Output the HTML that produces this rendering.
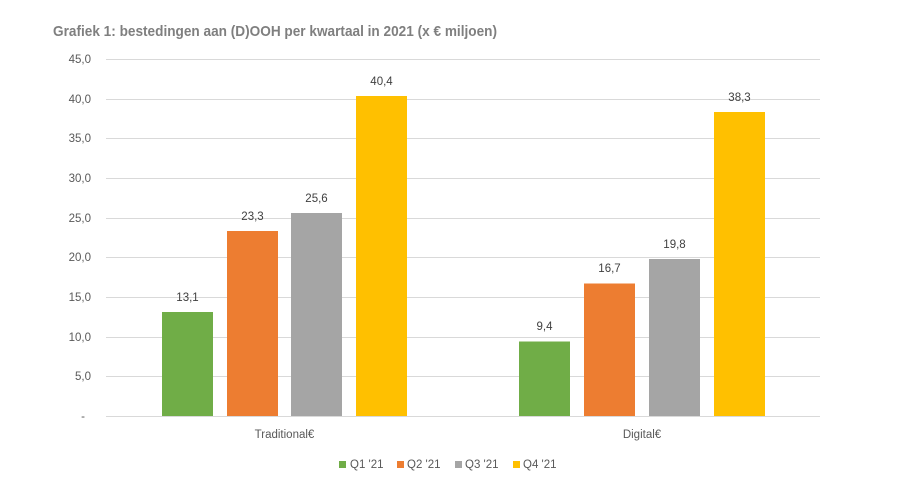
<!DOCTYPE html>
<html><head><meta charset="utf-8"><style>
html,body{margin:0;padding:0;background:#fff;}
svg{display:block;font-family:"Liberation Sans",Arial,sans-serif;}
</style></head><body>
<svg width="911" height="483" viewBox="0 0 911 483" xmlns="http://www.w3.org/2000/svg">
<rect width="911" height="483" fill="#fff"/>
<text x="53" y="36" font-size="15" font-weight="bold" fill="#7f7f7f" textLength="444" lengthAdjust="spacingAndGlyphs">Grafiek 1: bestedingen aan (D)OOH per kwartaal in 2021 (x € miljoen)</text>
<g stroke="#d9d9d9" stroke-width="1">
<line x1="106" x2="820" y1="59.5" y2="59.5"/>
<line x1="106" x2="820" y1="99.5" y2="99.5"/>
<line x1="106" x2="820" y1="138.5" y2="138.5"/>
<line x1="106" x2="820" y1="178.5" y2="178.5"/>
<line x1="106" x2="820" y1="218.5" y2="218.5"/>
<line x1="106" x2="820" y1="257.5" y2="257.5"/>
<line x1="106" x2="820" y1="297.5" y2="297.5"/>
<line x1="106" x2="820" y1="337.5" y2="337.5"/>
<line x1="106" x2="820" y1="376.5" y2="376.5"/>
<line x1="106" x2="820" y1="416.5" y2="416.5"/>
</g>
<g font-size="11.5" fill="#595959" text-anchor="end">
<text x="91" y="63">45,0</text>
<text x="91" y="103">40,0</text>
<text x="91" y="142">35,0</text>
<text x="91" y="182">30,0</text>
<text x="91" y="222">25,0</text>
<text x="91" y="261">20,0</text>
<text x="91" y="301">15,0</text>
<text x="91" y="341">10,0</text>
<text x="91" y="380">5,0</text>
<text x="85" y="420">-</text>
</g>
<rect x="162" y="312" width="51" height="104" fill="#70ad47"/>
<rect x="227" y="231" width="51" height="185" fill="#ed7d31"/>
<rect x="291" y="213" width="51" height="203" fill="#a5a5a5"/>
<rect x="356" y="96" width="51" height="320" fill="#ffc000"/>
<rect x="519" y="341.5" width="51" height="74.5" fill="#70ad47"/>
<rect x="584" y="283.5" width="51" height="132.5" fill="#ed7d31"/>
<rect x="649" y="259" width="51" height="157" fill="#a5a5a5"/>
<rect x="714" y="112" width="51" height="304" fill="#ffc000"/>
<g font-size="11.5" fill="#404040" text-anchor="middle">
<text x="187.5" y="301">13,1</text>
<text x="252.5" y="220">23,3</text>
<text x="316.5" y="202">25,6</text>
<text x="381.5" y="85">40,4</text>
<text x="544.5" y="330">9,4</text>
<text x="609.5" y="272">16,7</text>
<text x="674.5" y="248">19,8</text>
<text x="739.5" y="101">38,3</text>
</g>
<g font-size="11.5" fill="#595959" text-anchor="middle">
<text x="284.5" y="438">Traditional€</text>
<text x="642" y="438">Digital€</text>
</g>
<g font-size="11.5" fill="#595959">
<rect x="339" y="461" width="7" height="7" fill="#70ad47"/>
<text x="350" y="468">Q1 '21</text>
<rect x="397" y="461" width="7" height="7" fill="#ed7d31"/>
<text x="407" y="468">Q2 '21</text>
<rect x="455" y="461" width="7" height="7" fill="#a5a5a5"/>
<text x="465" y="468">Q3 '21</text>
<rect x="513" y="461" width="7" height="7" fill="#ffc000"/>
<text x="523" y="468">Q4 '21</text>
</g>
</svg>
</body></html>
